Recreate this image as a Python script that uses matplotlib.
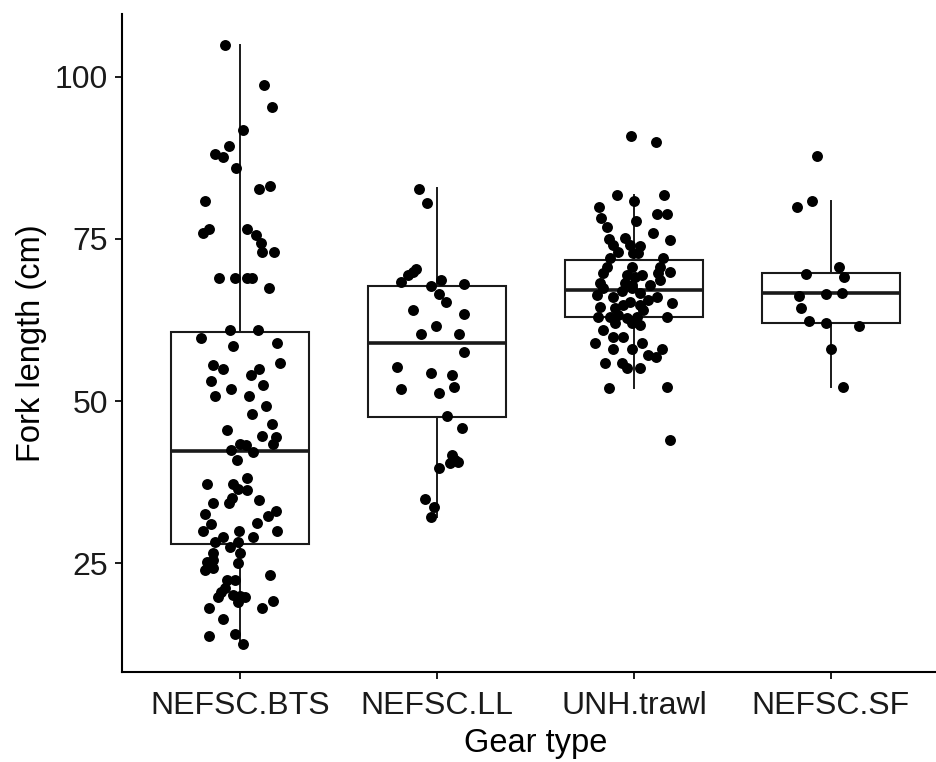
import matplotlib.pyplot as plt

plt.rcParams['font.family'] = ['Liberation Sans', 'DejaVu Sans']

gears = ["NEFSC.BTS", "NEFSC.LL", "UNH.trawl", "NEFSC.SF"]

# box statistics: lower whisker, Q1, median, Q3, upper whisker
whislo = [12.5, 32.1, 52.0, 52.2]
q1 = [27.9, 47.6, 63.0, 62.0]
med = [42.3, 59.0, 67.1, 66.6]
q3 = [60.6, 67.7, 71.8, 69.8]
whishi = [104.9, 82.8, 81.8, 80.9]

# jittered fork lengths (cm) and their horizontal jitter (category units)
bts_len = [104.9, 98.7, 95.3, 91.8, 89.4, 88.1, 87.7, 85.9, 82.7, 83.1,
           80.9, 75.9, 76.5, 76.5, 75.6, 74.4, 73.0, 73.0, 68.9, 68.9,
           68.9, 68.9, 67.4, 61.0, 61.0, 59.7, 58.5, 59.0, 55.6, 54.9,
           55.9, 54.0, 54.9, 53.1, 51.9, 52.5, 50.8, 50.8, 49.3, 48.0,
           46.5, 45.5, 44.6, 44.4, 43.3, 43.3, 43.2, 42.4, 42.2, 40.9,
           37.2, 38.1, 37.2, 36.5, 36.3, 34.3, 35.0, 34.2, 34.7, 32.5,
           31.0, 30.0, 31.2, 32.3, 33.1, 30.0, 30.0, 29.0, 28.3, 29.1,
           27.5, 28.2, 26.6, 26.5, 25.2, 25.5, 25.0, 24.0, 24.2, 23.1,
           22.4, 22.4, 21.2, 20.6, 19.8, 20.1, 19.9, 19.8, 19.0, 18.1,
           18.1, 19.2, 16.3, 13.7, 14.0, 12.5]
bts_jit = [-0.076, 0.122, 0.162, 0.015, -0.056, -0.127, -0.086, -0.020, 0.096, 0.152,
           -0.178, -0.188, -0.157, 0.036, 0.081, 0.107, 0.112, 0.173, -0.107, -0.025,
           0.036, 0.061, 0.147, -0.051, 0.091, -0.198, -0.036, 0.188, -0.137, -0.086,
           0.203, 0.056, 0.096, -0.147, -0.046, 0.117, -0.127, 0.046, 0.132, 0.061,
           0.162, -0.066, 0.112, 0.183, 0.168, 0.000, 0.030, -0.046, 0.066, -0.015,
           -0.168, 0.036, -0.036, -0.010, 0.036, -0.137, -0.041, -0.056, 0.096, -0.178,
           -0.147, -0.188, 0.086, 0.142, 0.183, 0.188, -0.005, -0.086, -0.127, 0.066,
           -0.051, -0.010, -0.137, 0.000, -0.168, -0.137, -0.010, -0.178, -0.137, 0.152,
           -0.025, -0.066, -0.076, -0.096, -0.112, -0.036, 0.000, 0.025, -0.010, -0.157,
           0.112, 0.168, -0.086, -0.157, -0.025, 0.015]

ll_len = [82.7, 80.5, 70.4, 69.9, 69.4, 68.4, 68.7, 67.8, 68.1, 66.5,
          65.2, 64.0, 63.5, 61.5, 60.3, 60.3, 57.5, 55.2, 54.3, 54.0,
          51.9, 51.2, 52.2, 47.7, 45.9, 41.7, 40.4, 40.6, 40.9, 39.6,
          34.9, 33.7, 32.1]
ll_jit = [-0.091, -0.051, -0.107, -0.122, -0.147, -0.183, 0.020, -0.030, 0.137, 0.010,
          0.046, -0.122, 0.137, -0.005, -0.081, 0.112, 0.137, -0.203, -0.030, 0.076,
          -0.183, 0.010, 0.086, 0.051, 0.127, 0.076, 0.066, 0.107, 0.091, 0.010,
          -0.061, -0.015, -0.030]

unh_len = [90.9, 89.9, 81.8, 80.9, 81.8, 79.9, 78.9, 78.9, 78.2, 76.8,
           77.8, 75.9, 74.9, 75.0, 75.1, 74.1, 74.1, 73.9, 73.0, 72.8,
           72.8, 72.0, 72.0, 70.7, 70.7, 70.7, 69.9, 69.7, 69.4, 69.2,
           69.4, 69.7, 68.7, 68.2, 68.2, 67.9, 67.9, 66.4, 67.4, 66.1,
           66.9, 67.4, 66.6, 65.6, 66.1, 65.1, 64.5, 64.3, 64.8, 65.3,
           64.8, 64.0, 63.0, 63.0, 63.3, 62.8, 63.0, 63.0, 62.0, 62.0,
           61.8, 61.0, 59.9, 59.9, 59.0, 59.0, 58.1, 58.1, 58.1, 57.1,
           56.8, 55.8, 55.8, 55.1, 55.1, 52.0, 52.2, 44.0]
unh_jit = [-0.015, 0.112, -0.086, 0.000, 0.152, -0.178, 0.117, 0.168, -0.168, -0.137,
           0.010, 0.096, 0.183, -0.127, -0.046, -0.107, -0.020, 0.030, -0.081, -0.005,
           0.020, -0.122, 0.147, -0.137, -0.010, 0.132, 0.183, -0.157, -0.036, 0.005,
           0.041, 0.122, 0.132, -0.173, -0.046, -0.010, 0.081, -0.188, -0.157, -0.107,
           -0.061, -0.010, 0.030, 0.071, 0.117, 0.193, -0.173, -0.096, -0.056, -0.020,
           0.030, 0.046, -0.183, -0.122, -0.081, -0.036, 0.015, 0.168, -0.096, -0.010,
           0.030, -0.157, -0.107, -0.056, -0.198, 0.041, -0.107, -0.010, 0.142, 0.071,
           0.112, -0.147, -0.061, -0.036, 0.030, -0.127, 0.168, 0.183]

sf_len = [87.8, 80.9, 80.0, 70.6, 69.1, 69.6, 66.2, 66.5, 66.7, 64.3,
          62.4, 62.1, 61.5, 58.0, 52.1]
sf_jit = [-0.071, -0.096, -0.173, 0.041, 0.066, -0.127, -0.162, -0.025, 0.056, -0.152,
          -0.112, -0.025, 0.142, 0.000, 0.061]

lengths = [bts_len, ll_len, unh_len, sf_len]
jitters = [bts_jit, ll_jit, unh_jit, sf_jit]

fig = plt.figure(figsize=(9.37, 7.62), dpi=100)
ax = fig.add_axes([122 / 937, 90 / 762, 827 / 937, 658 / 762])

stats = []
for i in range(len(gears)):
    stats.append({"whislo": whislo[i], "q1": q1[i], "med": med[i],
                  "q3": q3[i], "whishi": whishi[i], "fliers": []})
pos = list(range(1, len(gears) + 1))
ax.bxp(stats, positions=pos, widths=0.7, showcaps=False, showfliers=False,
       patch_artist=True,
       boxprops=dict(facecolor="white", edgecolor="#1a1a1a", linewidth=1.5),
       whiskerprops=dict(color="#1a1a1a", linewidth=1.4),
       medianprops=dict(color="#1a1a1a", linewidth=2.6),
       zorder=2)

for i in range(len(gears)):
    xs = [pos[i] + j for j in jitters[i]]
    ax.scatter(xs, lengths[i], s=62, color="black", linewidths=0, zorder=3)

ax.set_xlim(0.4, 4.6)
ax.set_ylim(8.2, 109.7)
ax.set_yticks([25, 50, 75, 100])
ax.set_xticks(pos)
ax.set_xticklabels(gears)

for side in ["top", "right"]:
    ax.spines[side].set_visible(False)
for side in ["left", "bottom"]:
    ax.spines[side].set_linewidth(1.5)
    ax.spines[side].set_color("black")
ax.tick_params(length=5, width=1.4, labelsize=23, colors="#1a1a1a")
ax.tick_params(axis="x", pad=9)
ax.tick_params(axis="y", pad=5)

ax.set_xlabel("Gear type", fontsize=23.5, labelpad=5)
ax.set_ylabel("Fork length (cm)", fontsize=23.5, labelpad=6)

fig.savefig("out.png", dpi=100)
